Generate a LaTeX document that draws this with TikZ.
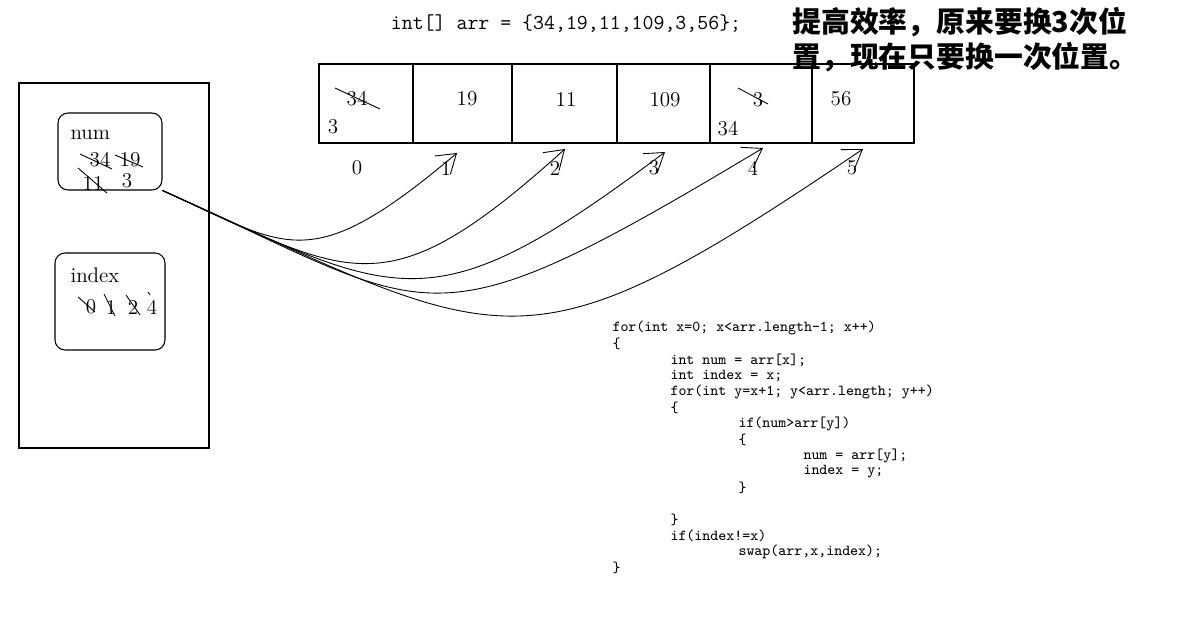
\documentclass[tikz,border=0pt]{standalone}
\usepackage{fontspec}
\newfontfamily\cjk{Noto Sans CJK SC}
\usetikzlibrary{arrows.meta}

\tikzset{
    val/.style={inner sep=0pt, font=\fontsize{12}{14}\selectfont},
    code/.style={inner sep=0pt, anchor=west, font=\ttfamily\fontsize{8.65}{10}\selectfont},
    note/.style={inner sep=0pt, anchor=west, font=\cjk\bfseries\fontsize{16.4}{20}\selectfont},
    memo/.style={draw, rounded corners=0.2cm},
    strike/.style={line width=0.5pt},
    pointer/.style={line width=0.5pt, -{Straight Barb[length=3.6mm,width=4.8mm]}}
}

\begin{document}
\begin{tikzpicture}[x=0.02cm, y=-0.02cm, line width=0.6pt]

\useasboundingbox (0,0) rectangle (1183,636);

% declaration and remark
\node[inner sep=0pt, font=\ttfamily\fontsize{12.1}{14}\selectfont] (decl) at (566,24) {int[] arr = \{34,19,11,109,3,56\};};
\node[note] (note1) at (792,22) {提高效率，原来要换3次位};
\node[note] (note2) at (792,57) {置，现在只要换一次位置。};

% the array
\draw (319,64) rectangle (914,143);
\foreach \x in {413,512,617,710,812}
{
    \draw (\x,64) -- (\x,143);
}
\node[val] (c0old) at (357,99) {34};
\node[val] (c0new) at (333,127) {3};
\node[val] (c1) at (467,99) {19};
\node[val] (c2) at (566,99) {11};
\node[val] (c3) at (665,100) {109};
\node[val] (c4old) at (758,100) {3};
\node[val] (c4new) at (728,129) {34};
\node[val] (c5) at (841,99) {56};
\draw[strike] (335,88) -- (380,109);
\draw[strike] (738,88) -- (768,104);

\foreach \i/\x in {0/357,1/446,2/555,3/654,4/753,5/852}
{
    \node[val] (idx\i) at (\x,168) {\i};
}

% the stack with num and index
\draw (19,83) rectangle (209,448);
\node[memo, minimum width=2.08cm, minimum height=1.54cm] (numbox) at (110,151.5) {};
\node[val, anchor=west] (numlab) at (70,135) {num};
\node[val] (n34) at (100,160) {34};
\node[val] (n19) at (130,160) {19};
\node[val] (n11) at (93,183) {11};
\node[val] (n3) at (127,181) {3};
\draw[strike] (80,154) -- (112,169);
\draw[strike] (115,155) -- (143,167);
\draw[strike] (78,168) -- (107,193);

\node[memo, minimum width=2.2cm, minimum height=1.94cm] (indexbox) at (110,301.5) {};
\node[val, anchor=west] (indexlab) at (70,275) {index};
\node[val] (i0) at (91,307) {0};
\node[val] (i1) at (111,307) {1};
\node[val] (i2) at (133,307) {2};
\node[val] (i4) at (152,307) {4};
\draw[strike] (78,297) -- (95,312);
\draw[strike] (104,294) -- (115,316);
\draw[strike] (126,295) -- (140,315);
\draw[strike] (148,292) -- (150,295);

% num goes to every later index
\coordinate (tip1) at (457,153);
\coordinate (tip2) at (565,149);
\coordinate (tip3) at (665,152);
\coordinate (tip4) at (763,148);
\coordinate (tip5) at (863,149);
\foreach \k/\a/\b/\c/\d in {1/125/56/-149/126, 2/190/86/-182/164, 3/237/107/-238/179, 4/278/125/-342/205, 5/347/156/-345/234}
{
    \draw[pointer] (numbox.south east) .. controls +(\a,\b) and +(\c,\d) .. (tip\k);
}

% the code
\foreach \n/\x/\txt in {0/612/{for(int x=0; x<arr.length-1; x++)}, 1/612/\{, 2/670/{int num = arr[x];}, 3/670/{int index = x;}, 4/670/{for(int y=x+1; y<arr.length; y++)}, 5/670/\{, 6/738/{if(num>arr[y])}, 7/738/\{, 8/803/{num = arr[y];}, 9/803/{index = y;}, 10/738/\}, 12/670/\}, 13/670/{if(index!=x)}, 14/738/{swap(arr,x,index);}, 15/612/\}}
{
    \node[code] (line\n) at (\x,{328+16*\n}) {\txt};
}

\end{tikzpicture}
\end{document}
